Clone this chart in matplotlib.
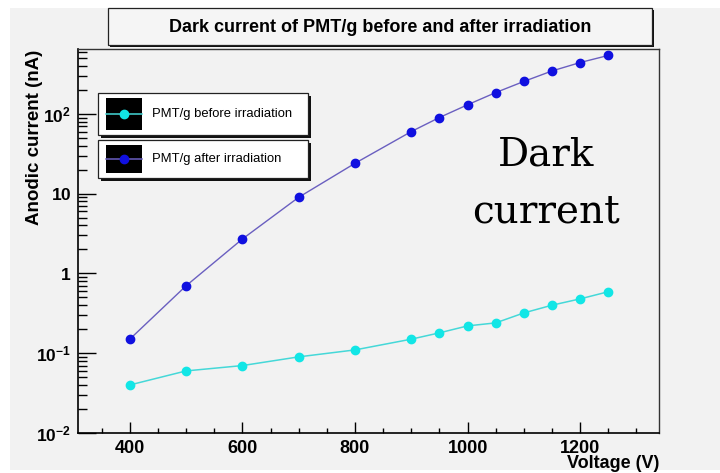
import matplotlib

matplotlib.use("Agg")
import matplotlib.pyplot as plt  # noqa: E402
from matplotlib.lines import Line2D  # noqa: E402
from matplotlib.patches import Rectangle  # noqa: E402
from matplotlib.ticker import FixedLocator, LogLocator, NullFormatter  # noqa: E402

plt.rcParams["font.family"] = ["Liberation Sans", "DejaVu Sans"]
plt.rcParams["mathtext.fontset"] = "custom"
plt.rcParams["mathtext.rm"] = "Liberation Sans"
plt.rcParams["mathtext.bf"] = "Liberation Sans:bold"

# PMT/g dark current vs high voltage
voltage = [400, 500, 600, 700, 800, 900, 950, 1000, 1050, 1100, 1150, 1200, 1250]
before_irr = [0.04, 0.06, 0.07, 0.09, 0.11, 0.15, 0.18, 0.22, 0.24, 0.32, 0.40, 0.48, 0.59]
after_irr = [0.15, 0.7, 2.7, 9, 24, 60, 90, 130, 185, 255, 345, 440, 540]

x_labels = [400, 600, 800, 1000, 1200]
y_ticks = [1e-2, 1e-1, 1, 10, 100]
y_labels = [r"$\mathbf{10^{-2}}$", r"$\mathbf{10^{-1}}$", r"$\mathbf{1}$",
            r"$\mathbf{10}$", r"$\mathbf{10^{2}}$"]

CYAN_LINE, CYAN_MARK = "#45d8d8", "#12e6e6"
BLUE_LINE, BLUE_MARK = "#6a5fc0", "#1010e0"
BG = "#f2f2f2"

W, H = 720, 473


def fx(x):
    return x / W


def fy(y):
    return 1 - y / H


def box(fig, x0, y0, x1, y1, shadow=3, face="white"):
    fig.patches.append(Rectangle((fx(x0 + shadow), fy(y1 + shadow)), fx(x1 - x0), (y1 - y0) / H,
                                 transform=fig.transFigure, facecolor="#111111", edgecolor="none"))
    fig.patches.append(Rectangle((fx(x0), fy(y1)), fx(x1 - x0), (y1 - y0) / H,
                                 transform=fig.transFigure, facecolor=face, edgecolor="#222222", lw=0.9))


def legend_entry(fig, y0, y1, line_c, mark_c, text):
    box(fig, 98, y0, 308, y1)
    fig.patches.append(Rectangle((fx(106), fy(y1 - 5)), fx(36), (y1 - y0 - 10) / H,
                                 transform=fig.transFigure, facecolor="black", edgecolor="none"))
    ym = fy((y0 + y1) / 2)
    fig.lines.append(Line2D([fx(106), fx(142)], [ym, ym], transform=fig.transFigure,
                            color=line_c, lw=1.1))
    fig.lines.append(Line2D([fx(124)], [ym], transform=fig.transFigure, marker="o",
                            ms=6, color=mark_c, mec=mark_c))
    fig.text(fx(152), ym, text, fontsize=9.4, va="center", ha="left")


fig = plt.figure(figsize=(7.2, 4.73), dpi=100, facecolor="white")
fig.patches.append(Rectangle((fx(10), fy(470)), 1, (470 - 8) / H, transform=fig.transFigure,
                             facecolor=BG, edgecolor="none", zorder=-10))

ax = fig.add_axes([fx(78), fy(433), fx(659 - 78), (433 - 49) / H])
ax.set_facecolor(BG)
ax.plot(voltage, before_irr, color=CYAN_LINE, lw=1.1, marker="o", ms=6,
        mfc=CYAN_MARK, mec=CYAN_MARK)
ax.plot(voltage, after_irr, color=BLUE_LINE, lw=1.0, marker="o", ms=6,
        mfc=BLUE_MARK, mec=BLUE_MARK)

ax.set_yscale("log")
ax.set_xlim(308, 1340)
ax.set_ylim(1e-2, 650)

ax.xaxis.set_major_locator(FixedLocator(x_labels))
ax.xaxis.set_minor_locator(FixedLocator(range(350, 1340, 50)))
ax.set_xticklabels([str(v) for v in x_labels], fontsize=13, fontweight="bold")
ax.yaxis.set_major_locator(FixedLocator(y_ticks))
ax.yaxis.set_minor_locator(LogLocator(base=10, subs=range(2, 10)))
ax.yaxis.set_minor_formatter(NullFormatter())
ax.set_yticklabels(y_labels, fontsize=12.5)

ax.tick_params(axis="x", which="major", direction="in", length=7.7, width=1, pad=5, top=False)
ax.tick_params(axis="x", which="minor", direction="in", length=3.6, width=1, top=False)
ax.tick_params(axis="y", which="major", direction="in", length=13, width=1, pad=5, right=False)
ax.tick_params(axis="y", which="minor", direction="in", length=6.5, width=1, right=False)

for side in ("left", "bottom"):
    ax.spines[side].set_linewidth(1.2)
    ax.spines[side].set_color("black")
for side in ("top", "right"):
    ax.spines[side].set_linewidth(1.0)
    ax.spines[side].set_color("#333333")

# axis titles aligned to the axis ends
fig.text(fx(659), fy(455), "Voltage (V)", fontsize=13, fontweight="bold",
         ha="right", va="top")
fig.text(fx(35), fy(50), "Anodic current (nA)", fontsize=13.5, fontweight="bold",
         rotation=90, ha="center", va="top")

# title box
box(fig, 108, 8, 652, 45, shadow=2, face="#f5f5f5")
fig.text(fx(380), fy(27), "Dark current of PMT/g before and after irradiation",
         fontsize=13, fontweight="bold", ha="center", va="center")

legend_entry(fig, 93, 135, CYAN_LINE, CYAN_MARK, "PMT/g before irradiation")
legend_entry(fig, 140, 178, BLUE_LINE, BLUE_MARK, "PMT/g after irradiation")

fig.text(fx(546), fy(166), "Dark", fontsize=28, family="DejaVu Serif",
         ha="center", va="baseline")
fig.text(fx(546), fy(222), "current", fontsize=28, family="DejaVu Serif",
         ha="center", va="baseline")

fig.savefig("out.png", dpi=100, facecolor=fig.get_facecolor())
